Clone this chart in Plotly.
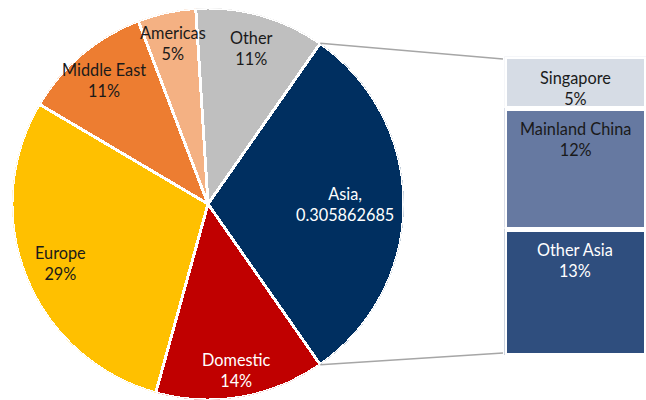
import math
import plotly.graph_objects as go

# ---- data ----
pie_labels = ["Asia", "Domestic", "Europe", "Middle East", "Americas", "Other"]
pie_values = [0.305862685, 0.140, 0.292, 0.107, 0.048, 0.107]
pie_text = ["Asia,<br>0.305862685", "Domestic<br>14%", "Europe<br>29%",
            "Middle East<br>11%", "Americas<br>5%", "Other<br>11%"]

bar_labels = ["Singapore", "Mainland China", "Other Asia"]
bar_values = [0.053, 0.124, 0.129]
bar_text = ["Singapore<br>5%", "Mainland China<br>12%", "Other Asia<br>13%"]

# ---- styles ----
pie_colors = ["#002F60", "#C00000", "#FFC000", "#ED7D31", "#F4B183", "#BFBFBF"]
pie_text_colors = ["#FFFFFF", "#FFFFFF", "#1A1A1A", "#1A1A1A", "#1A1A1A", "#1A1A1A"]
label_r = [0.70, 0.86, 0.81, 0.825, 0.84, 0.825]
bar_colors = ["#D6DCE5", "#6679A1", "#2F4E7E"]
bar_text_colors = ["#1A1A1A", "#1A1A1A", "#FFFFFF"]
FONT = "Lato"
FS = 16.3

W, H = 646, 400
pie_left, pie_right = 12, 404
pie_dom_y = [0.0, 0.98]
bar_dom_x = [504.5 / W, 1.0]
bar_dom_y = [44.5 / H, 343.5 / H]

total = sum(pie_values)
spans = [v / total * 360 for v in pie_values]
start = 90 - spans[0] / 2  # split slice centred on the right
mids, s = [], start
for sp in spans:
    mids.append(s + sp / 2)
    s += sp

R = (pie_right - pie_left) / 2
cx = pie_left + R
cy = H - (pie_dom_y[0] + pie_dom_y[1]) / 2 * H


def polar_to_paper(r, a):
    px = cx + r * R * math.sin(math.radians(a))
    py = cy - r * R * math.cos(math.radians(a))
    return px / W, 1 - py / H


fig = go.Figure()

fig.add_trace(go.Barpolar(
    r=[1] * len(pie_values), theta=mids, width=spans,
    marker=dict(color=pie_colors, line=dict(color="white", width=3)),
    showlegend=False, hoverinfo="skip",
))

for txt, a, r, tc in zip(pie_text, mids, label_r, pie_text_colors):
    x, y = polar_to_paper(r, a)
    fig.add_annotation(x=x, y=y, xref="paper", yref="paper", text=txt,
                       showarrow=False, xanchor="center", yanchor="middle",
                       align="center", font=dict(family=FONT, size=FS, color=tc))

cum = 0
for lab, val, txt, col, tc in zip(bar_labels, bar_values, bar_text, bar_colors, bar_text_colors):
    fig.add_trace(go.Bar(
        x=[0], y=[val], name=lab,
        marker=dict(color=col, line=dict(color="white", width=4.5)),
        width=1, showlegend=False, hoverinfo="skip",
    ))
    fig.add_annotation(x=0, y=cum, xref="x", yref="y", text=txt,
                       showarrow=False, yanchor="top", xanchor="center",
                       yshift=-9, align="center",
                       font=dict(family=FONT, size=FS, color=tc))
    cum += val

# connector lines from the split slice to the bar
ends = [start, start + spans[0]]
tops = [59, 353]
for a, ty in zip(ends, tops):
    x0, y0 = polar_to_paper(1.0, a)
    fig.add_shape(type="line", xref="paper", yref="paper",
                  x0=x0, y0=y0, x1=503 / W, y1=1 - ty / H,
                  line=dict(color="#A6A6A6", width=1.5))

fig.update_layout(
    width=W, height=H, margin=dict(l=0, r=0, t=0, b=0),
    paper_bgcolor="white", plot_bgcolor="rgba(0,0,0,0)",
    barmode="stack", bargap=0,
    polar=dict(
        domain=dict(x=[pie_left / W, pie_right / W], y=pie_dom_y),
        bgcolor="rgba(0,0,0,0)",
        radialaxis=dict(visible=False, range=[0, 1]),
        angularaxis=dict(visible=False, direction="clockwise", rotation=90),
        hole=0,
    ),
    xaxis=dict(domain=bar_dom_x, range=[-0.5, 0.5], visible=False),
    yaxis=dict(domain=bar_dom_y, range=[sum(bar_values), 0], visible=False),
)

fig.write_html("out.html")
